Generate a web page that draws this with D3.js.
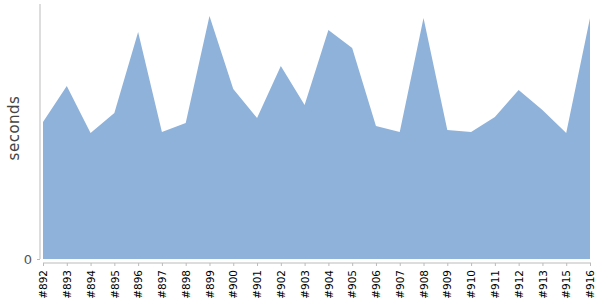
<!DOCTYPE html>
<html><head><meta charset="utf-8">
<script src="https://cdn.jsdelivr.net/npm/d3@7"></script>
<style>body{margin:0;background:#fff}svg{display:block}</style>
</head><body>
<script>
const builds = ["#892","#893","#894","#895","#896","#897","#898","#899","#900","#901","#902","#903","#904","#905","#906","#907","#908","#909","#910","#911","#912","#913","#915","#916"];
const seconds = [137,173,126,146,227,127,136,243,170,141,193,154,229,211,133,127,241,129,127,142,169,149,126,241];
const yTicks = [0];

const W = 600, H = 300;
const svg = d3.select("body").append("svg").attr("width", W).attr("height", H);
const x = d3.scalePoint().domain(builds).range([43, 590]);
const y = d3.scaleLinear().domain([0, 255]).range([259, 4]);

const data = builds.map((b, i) => ({b, v: seconds[i]}));
svg.append("path").datum(data)
  .attr("fill", "#8fb2da")
  .attr("d", d3.area().x(d => x(d.b)).y0(y(0)).y1(d => y(d.v)));

// y axis
const ya = svg.append("g").attr("transform", "translate(40,0)")
  .call(d3.axisLeft(y).tickValues(yTicks).tickSize(3).tickPadding(5));
ya.select(".domain").attr("stroke", "#bbb").attr("d", `M0,${y(255)}V${y(0)}`);
ya.selectAll(".tick line").attr("stroke", "#bbb");
ya.selectAll(".tick text").attr("fill", "#555").style("font", "13px 'DejaVu Sans', sans-serif");

// x axis
const xa = svg.append("g").attr("transform", "translate(0,263)")
  .call(d3.axisBottom(x).tickSize(3).tickSizeOuter(0));
xa.select(".domain").attr("stroke", "#bbb").attr("d", "M43,0H591");
xa.selectAll(".tick line").attr("stroke", "#bbb");
xa.selectAll(".tick text")
  .attr("fill", "#000")
  .style("font", "10.5px 'DejaVu Sans', sans-serif")
  .attr("transform", "rotate(-90)")
  .attr("text-anchor", "end")
  .attr("x", -7).attr("y", 0).attr("dy", "0.35em");

svg.append("text")
  .attr("transform", "translate(19,128) rotate(-90)")
  .attr("text-anchor", "middle")
  .attr("fill", "#444")
  .style("font", "15px 'DejaVu Sans', sans-serif")
  .style("letter-spacing", "0.5px")
  .text("seconds");
</script>
</body></html>
